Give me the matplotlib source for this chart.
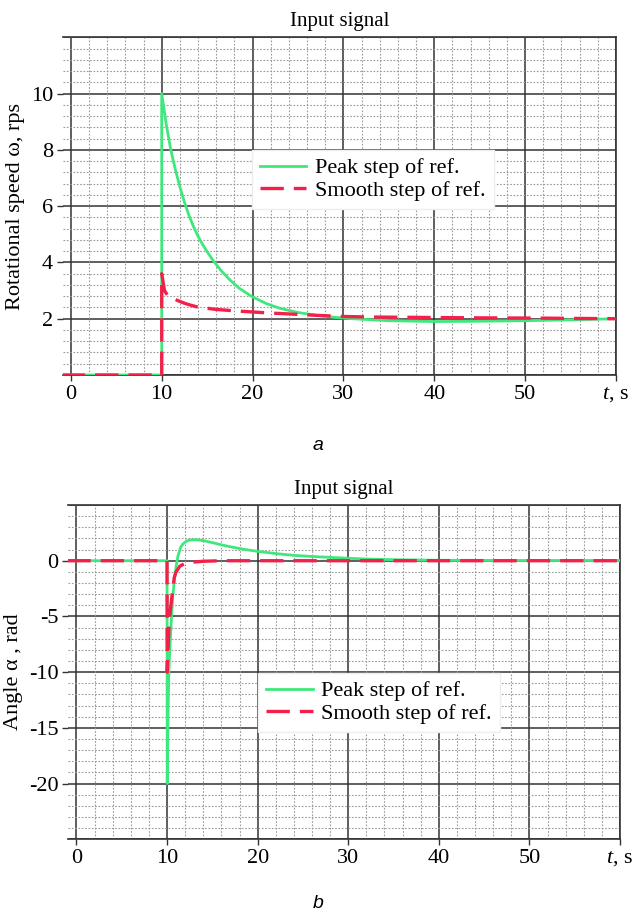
import matplotlib
matplotlib.use("Agg")
import matplotlib.pyplot as plt
from matplotlib.ticker import MultipleLocator, FixedLocator, FixedFormatter

plt.rcParams['font.family'] = ['Liberation Serif', 'DejaVu Serif']
plt.rcParams['mathtext.fontset'] = 'custom'
plt.rcParams['mathtext.rm'] = 'Liberation Serif'
plt.rcParams['mathtext.it'] = 'Liberation Serif:italic'
plt.rcParams['axes.unicode_minus'] = False

# ---------------- data ----------------
title = "Input signal"
series_names = ["Peak step of ref.", "Smooth step of ref."]

# (a) rotational speed
t_peak_a = [-1, 10, 10.0, 10.5, 11.0, 11.5, 12.0, 12.5, 13.0, 13.5, 14.0, 14.5, 15.0, 15.7, 16.5,
            17.5, 18.5, 19.9, 21.5, 23.0, 25.0, 27.1, 29.0, 31.0, 35, 40, 45, 50, 55, 60]
w_peak_a = [0, 0, 10.0, 8.9, 8.0, 7.3, 6.68, 6.14, 5.67, 5.27, 4.93, 4.64, 4.38, 4.05, 3.72,
            3.38, 3.09, 2.79, 2.54, 2.37, 2.22, 2.12, 2.05, 2.0, 1.93, 1.9, 1.91, 1.93, 1.96, 2.0]
t_smooth_a = [-1, 10, 10.0, 10.3, 10.7, 11.1, 11.8, 12.5, 13.2, 13.9, 15, 16, 18, 20, 22, 24,
              27, 30, 33, 37, 45, 52, 60]
w_smooth_a = [0, 0, 3.6, 3.0, 2.8, 2.74, 2.64, 2.55, 2.48, 2.42, 2.37, 2.33, 2.28, 2.24, 2.2, 2.17,
              2.12, 2.08, 2.06, 2.05, 2.03, 2.02, 2.0]

# (b) angle
t_peak_b = [-1, 10, 10.02, 10.1, 10.2, 10.3, 10.4, 10.5, 10.6, 10.8, 11.0, 11.2, 11.5, 11.8,
            12.2, 12.6, 13.0, 13.5, 14.0, 15.2, 16.0, 17.0, 18.5, 20.0, 22.0, 24.0, 26.0, 28.0,
            30.0, 32.0, 35.0, 40.0, 50.0, 60.0]
a_peak_b = [0, 0, -20.0, -14.0, -10.0, -8.0, -6.5, -5.0, -3.5, -1.8, -0.5, 0.4, 1.2, 1.55,
            1.78, 1.87, 1.89, 1.86, 1.8, 1.59, 1.42, 1.25, 1.02, 0.84, 0.64, 0.48, 0.38, 0.3,
            0.22, 0.15, 0.09, 0.04, 0.02, 0.02]
t_smooth_b = [-1, 10, 10.02, 10.2, 10.3, 10.4, 10.5, 10.65, 10.8, 11.0, 11.4, 12.0, 12.5, 14.0,
              16.0, 60.0]
a_smooth_b = [0, 0, -10.0, -6.2, -5.0, -4.2, -3.5, -2.4, -1.5, -1.0, -0.5, -0.22, -0.15, -0.05,
              0.0, 0.0]

x_ticks = [0, 10, 20, 30, 40, 50, 60]
x_ticklabels = ["0", "10", "20", "30", "40", "50", "$t$, s"]
y_ticks_a = [2, 4, 6, 8, 10]
y_ticks_b = [0, -5, -10, -15, -20]

GREEN = "#3ee87c"
RED = "#f2204a"

fig = plt.figure(figsize=(6.33, 9.16), dpi=100)
ax1 = fig.add_axes([62.7/633, 1-375/916, (616-62.7)/633, (375-37.3)/916])
ax2 = fig.add_axes([68.3/633, 1-839.3/916, (620-68.3)/633, (839.3-505)/916])


def style(ax, ylim, ymaj, ymin_step, yticks):
    ax.set_xlim(-0.9, 60)
    ax.set_ylim(*ylim)
    ax.xaxis.set_major_locator(FixedLocator(x_ticks))
    ax.xaxis.set_major_formatter(FixedFormatter(x_ticklabels))
    ax.xaxis.set_minor_locator(MultipleLocator(2))
    ax.yaxis.set_minor_locator(MultipleLocator(ymin_step))
    ax.set_yticks(yticks)
    ax.set_yticklabels([str(v) for v in yticks])
    ax.grid(False)
    for xv in x_ticks:
        ax.axvline(xv, color="#333333", lw=1.1, zorder=1)
    yv = ylim[0]
    while yv <= ylim[1] + 1e-9:
        ax.axhline(yv, color="#333333", lw=1.1, zorder=1)
        yv += ymaj
    ax.grid(True, which="minor", color="#9a9a9a", lw=0.8, ls=(0, (1.5, 1.5)), zorder=0)
    ax.tick_params(which="major", direction="out", length=4, width=1, color="#333333",
                   labelsize=16, pad=3)
    ax.tick_params(which="minor", length=0)
    ax.spines["left"].set_visible(False)
    for s in ["top", "bottom", "right"]:
        ax.spines[s].set_color("#333333")
        ax.spines[s].set_linewidth(1.2)
    ax.set_title(title, fontsize=15, pad=8)


style(ax1, (0, 12), 2, 0.4, y_ticks_a)
style(ax2, (-25, 5), 5, 1, y_ticks_b)

ax1.plot(t_peak_a, w_peak_a, color=GREEN, lw=2, label=series_names[0], zorder=3)
ax1.plot(t_smooth_a, w_smooth_a, color=RED, lw=2.4, dashes=(7, 3), label=series_names[1], zorder=4)
ax2.plot(t_peak_b, a_peak_b, color=GREEN, lw=2, label=series_names[0], zorder=3)
ax2.plot(t_smooth_b, a_smooth_b, color=RED, lw=2.4, dashes=(7, 3), label=series_names[1], zorder=4)

ax1.set_ylabel("Rotational speed ω, rps", fontsize=16, labelpad=4)
ax2.set_ylabel("Angle α , rad", fontsize=16, labelpad=4)

for ax, anchor in [(ax1, (0.342, 0.666)), (ax2, (0.344, 0.497))]:
    leg = ax.legend(loc="upper left", bbox_to_anchor=anchor, borderaxespad=0,
                    fontsize=16, frameon=True, fancybox=False, framealpha=1,
                    edgecolor="#eeeeee", facecolor="white", handlelength=2.1,
                    handletextpad=0.4, labelspacing=0.1, borderpad=0.35)
    leg.set_zorder(10)

fig.text(318/633, 1-445/916, "a", ha="center", va="center", fontsize=14,
         style="italic", family="Liberation Sans")
fig.text(318/633, 1-903/916, "b", ha="center", va="center", fontsize=14,
         style="italic", family="Liberation Sans")

fig.savefig("out.png", dpi=100)
